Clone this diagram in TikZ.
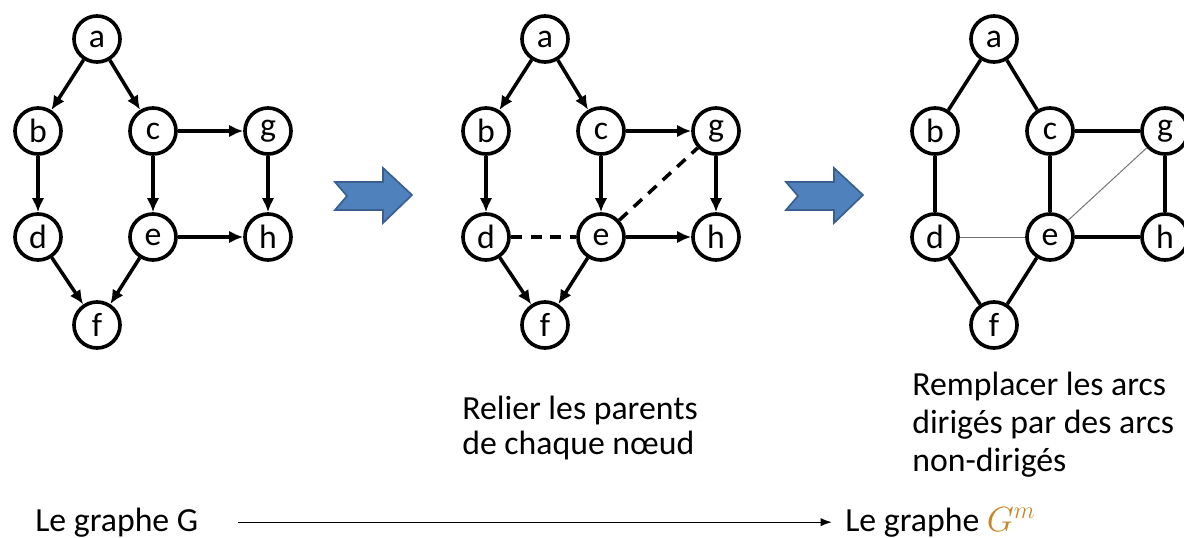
\documentclass[tikz,border=0pt]{standalone}
\usepackage{fontspec}
\setmainfont{Carlito}
\usetikzlibrary{arrows.meta}
\definecolor{arrowblue}{HTML}{4F81BD}
\definecolor{arrowedge}{HTML}{3A5F8F}
\definecolor{gmcolor}{HTML}{C8862A}
\begin{document}
\begin{tikzpicture}[x=0.025cm, y=-0.025cm, font=\fontsize{24}{26}\selectfont,
      >={Latex[length=10pt,width=9pt]},
      vertex/.style={circle, draw, line width=2.6pt, minimum size=1.15cm, inner sep=0pt},
      link/.style={line width=2.5pt},
      dirlink/.style={link, ->},
      moral/.style={link, dash pattern=on 8pt off 6pt},
      weaklink/.style={line width=0.7pt, black!55},
      bigarrow/.style={fill=arrowblue, draw=arrowedge, line width=1.2pt, line join=miter},
      caption/.style={align=left, anchor=north west, inner sep=0pt}]
    \useasboundingbox (0,0) rectangle (1184,538);
    % graphe G
    \node[vertex] (a1) at (97,39) {a};
    \node[vertex] (b1) at (38,131) {b};
    \node[vertex] (c1) at (153,131) {c};
    \node[vertex] (g1) at (268,131) {g};
    \node[vertex] (d1) at (38,237) {d};
    \node[vertex] (e1) at (153,237) {e};
    \node[vertex] (h1) at (268,237) {h};
    \node[vertex] (f1) at (97,325) {f};
    \draw[dirlink] (a1) -- (b1);
    \draw[dirlink] (a1) -- (c1);
    \draw[dirlink] (b1) -- (d1);
    \draw[dirlink] (c1) -- (e1);
    \draw[dirlink] (c1) -- (g1);
    \draw[dirlink] (g1) -- (h1);
    \draw[dirlink] (e1) -- (h1);
    \draw[dirlink] (d1) -- (f1);
    \draw[dirlink] (e1) -- (f1);
    % parents relies
    \begin{scope}[shift={(448,0)}]
      \node[vertex] (a2) at (97,39) {a};
      \node[vertex] (b2) at (38,131) {b};
      \node[vertex] (c2) at (153,131) {c};
      \node[vertex] (g2) at (268,131) {g};
      \node[vertex] (d2) at (38,237) {d};
      \node[vertex] (e2) at (153,237) {e};
      \node[vertex] (h2) at (268,237) {h};
      \node[vertex] (f2) at (97,325) {f};
    \end{scope}
    \draw[dirlink] (a2) -- (b2);
    \draw[dirlink] (a2) -- (c2);
    \draw[dirlink] (b2) -- (d2);
    \draw[dirlink] (c2) -- (e2);
    \draw[dirlink] (c2) -- (g2);
    \draw[dirlink] (g2) -- (h2);
    \draw[dirlink] (e2) -- (h2);
    \draw[dirlink] (d2) -- (f2);
    \draw[dirlink] (e2) -- (f2);
    \draw[moral] (d2) -- (e2);
    \draw[moral] (e2) -- (g2);
    % graphe moral
    \begin{scope}[shift={(897,0)}]
      \node[vertex] (a3) at (97,39) {a};
      \node[vertex] (b3) at (38,131) {b};
      \node[vertex] (c3) at (153,131) {c};
      \node[vertex] (g3) at (268,131) {g};
      \node[vertex] (d3) at (38,237) {d};
      \node[vertex] (e3) at (153,237) {e};
      \node[vertex] (h3) at (268,237) {h};
      \node[vertex] (f3) at (97,325) {f};
    \end{scope}
    \draw[link] (a3) -- (b3);
    \draw[link] (a3) -- (c3);
    \draw[link] (b3) -- (d3);
    \draw[link] (c3) -- (e3);
    \draw[link, line width=3pt] (c3) -- (g3);
    \draw[link] (g3) -- (h3);
    \draw[link, line width=3pt] (e3) -- (h3);
    \draw[link] (d3) -- (f3);
    \draw[link] (e3) -- (f3);
    \draw[weaklink] (d3) -- (e3);
    \draw[weaklink] (e3) -- (g3);
    % fleches bleues
    \draw[bigarrow] (335,182) -- (383,182) -- (383,168) -- (412,195) -- (383,223) -- (383,210) -- (335,210) -- (347,196) -- cycle;
    \draw[bigarrow, shift={(451,0)}] (335,182) -- (383,182) -- (383,168) -- (412,195) -- (383,223) -- (383,210) -- (335,210) -- (347,196) -- cycle;
    % legendes
    \node[caption, font=\fontsize{24}{25}\selectfont] (rel) at (462,396) {Relier les parents\\de chaque nœud};
    \node[caption, font=\fontsize{24}{27}\selectfont] (rem) at (912,372) {Remplacer les arcs\\dirigés par des arcs\\non-dirigés};
    \node[anchor=base west, inner sep=0pt] (lg) at (35,531) {Le graphe G};
    \node[anchor=base west, inner sep=0pt] (lgm) at (845,531) {Le graphe \textcolor{gmcolor}{$G^m$}};
    \draw[->, line width=0.9pt, >={Latex[length=8pt,width=6pt]}, shorten <=1cm, shorten >=0.33cm] (lg.east) -- (lg.east -| lgm.west);
  \end{tikzpicture}
\end{document}
